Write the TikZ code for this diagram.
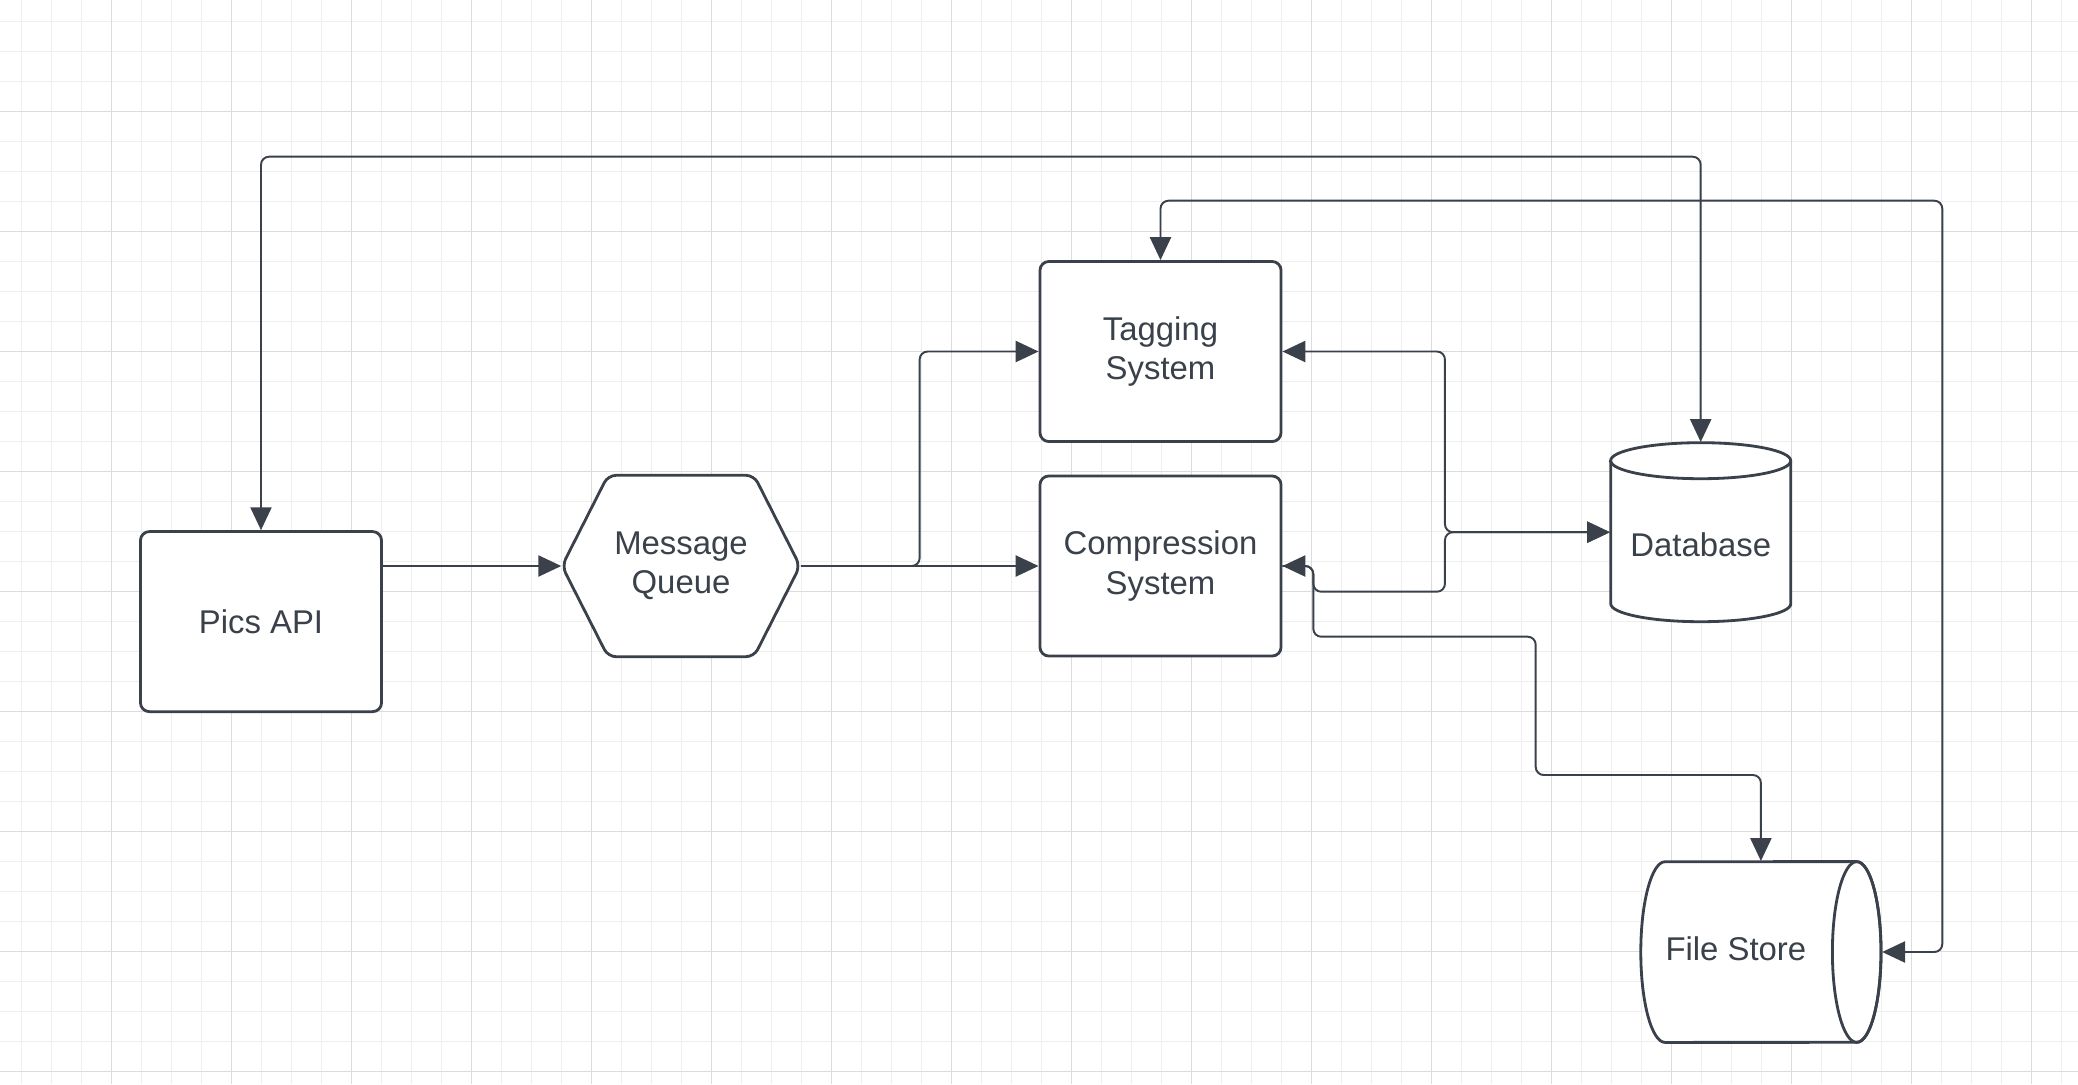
\documentclass[tikz,border=0pt]{standalone}
\usepackage{fontspec}
\setmainfont{Liberation Sans}
\usepackage{tikz}
\usetikzlibrary{arrows.meta, calc}
\definecolor{ink}{HTML}{3A414A}
\definecolor{gridminor}{HTML}{EEEEEE}
\definecolor{gridmajor}{HTML}{DCDCDC}
\newcommand{\labelfont}{\fontsize{9.35}{11.2}\selectfont}
\tikzstyle{block} = [rectangle, draw=ink, fill=white, line width=0.8pt, rounded corners=0.09cm, minimum width=2.41cm, minimum height=1.8cm, align=center, text=ink, font=\labelfont]
\tikzstyle{plainbox} = [rectangle, align=center, text=ink, font=\labelfont]
\tikzstyle{outline} = [draw=ink, fill=white, line width=0.8pt]
\tikzstyle{link} = [draw=ink, line width=0.55pt, rounded corners=0.08cm, -{Triangle[length=6.5pt,width=6pt]}]
\tikzstyle{linkboth} = [link, {Triangle[length=6.5pt,width=6pt]}-{Triangle[length=6.5pt,width=6pt]}]

\begin{document}
\begin{tikzpicture}[x=0.01cm, y=-0.01cm]
  \useasboundingbox (0,0) rectangle (2078,1084);
  % grid
  \foreach \g in {0,...,68} \draw[gridminor, line width=0.3pt] ({21.7+30*\g},0) -- ({21.7+30*\g},1084);
  \foreach \g in {0,...,35} \draw[gridminor, line width=0.3pt] (0,{21.7+30*\g}) -- (2078,{21.7+30*\g});
  \foreach \g in {0,...,16} \draw[gridmajor, line width=0.3pt] ({111.7+120*\g},0) -- ({111.7+120*\g},1084);
  \foreach \g in {0,...,8} \draw[gridmajor, line width=0.3pt] (0,{111.7+120*\g}) -- (2078,{111.7+120*\g});

  % shape outlines
  \coordinate (mqc) at (681,566);
  \coordinate (dbc) at (1700.7,532.2);
  \coordinate (fsc) at (1760.9,952);
  \filldraw[outline, rounded corners=0.08cm]
    ($(mqc)+(-119,0)$) -- ($(mqc)+(-73,-90.7)$) -- ($(mqc)+(73,-90.7)$) -- ($(mqc)+(119,0)$)
    -- ($(mqc)+(73,90.7)$) -- ($(mqc)+(-73,90.7)$) -- cycle;
  \filldraw[outline] ($(dbc)+(-90,-71.5)$) -- ($(dbc)+(-90,71.5)$)
    arc[start angle=180, end angle=360, x radius=0.9cm, y radius=0.18cm]
    -- ($(dbc)+(90,-71.5)$)
    arc[start angle=0, end angle=180, x radius=0.9cm, y radius=0.18cm] -- cycle;
  \draw[outline, fill=none] ($(dbc)+(-90,-71.5)$) arc[start angle=180, end angle=360, x radius=0.9cm, y radius=0.18cm];
  \filldraw[outline] ($(fsc)+(-95.8,-90.3)$)
    arc[start angle=90, end angle=270, x radius=0.243cm, y radius=0.903cm]
    -- ($(fsc)+(95.8,90.3)$)
    arc[start angle=-90, end angle=90, x radius=0.243cm, y radius=0.903cm] -- cycle;
  \draw[outline, fill=none] ($(fsc)+(95.8,0)$) ellipse[x radius=0.243cm, y radius=0.903cm];

  \node[block] (api) at (261,621.6) {Pics API};
  \node[plainbox, minimum width=2.38cm, minimum height=1.815cm] (mq) at (mqc) {Message\\Queue};
  \node[block] (tag) at (1160.5,351.5) {Tagging\\System};
  \node[block] (comp) at (1160.5,566) {Compression\\System};
  \node[plainbox, minimum width=1.8cm, minimum height=1.79cm, label={[text=ink, font=\labelfont, yshift=-0.125cm]center:Database}] (db) at (dbc) {};
  \node[plainbox, minimum width=2.41cm, minimum height=1.806cm, label={[text=ink, font=\labelfont, xshift=-0.25cm, yshift=0.03cm]center:File Store}] (fs) at (fsc) {};

  \coordinate (ceilA) at (0,156.7);
  \coordinate (railB) at (1942.3,200.7);
  \coordinate (dbjoin) at ($(db.west)+(-165,0)$);
  \coordinate (loopC) at (1313.3,591.7);
  \coordinate (fsA) at (1313.3,636.7);
  \coordinate (fsB) at (1535.7,775);

  \draw[linkboth] (api.north) |- (db.north |- ceilA) -- (db.north);
  \draw[linkboth] (tag.north) |- (railB) |- (fs.east);
  \draw[link] (api.east |- mq.west) -- (mq.west);
  \draw[link] (mq.east) -| ($(mq.east)!.5!(tag.west)$) |- (tag.west);
  \draw[link] (mq.east) -- (comp.west);
  \draw[linkboth] (tag.east) -| (dbjoin) -- (db.west);
  \draw[linkboth] (comp.east) -| (loopC) -| (dbjoin) -- (db.west);
  \draw[link] (comp.east) -| (fsA) -| (fsB) -| (fs.north);
\end{tikzpicture}
\end{document}
